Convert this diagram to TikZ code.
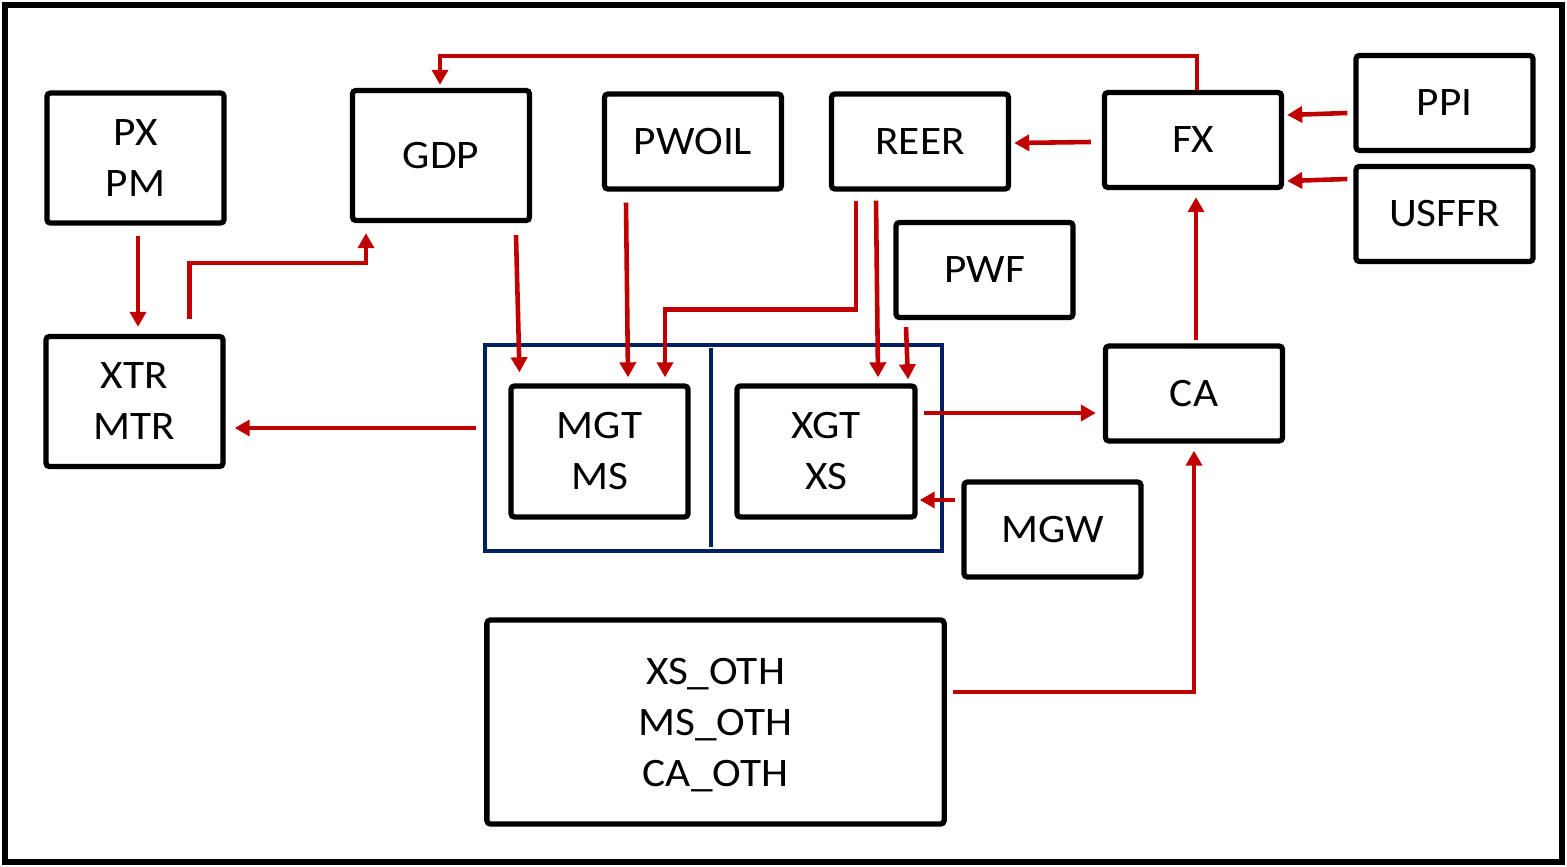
\documentclass[tikz,border=0pt]{standalone}
\usepackage{fontspec}
\setmainfont{Carlito}[FakeStretch=1.07]
\usetikzlibrary{arrows.meta,positioning,calc}
\definecolor{flowred}{HTML}{C00000}
\definecolor{blocknavy}{HTML}{002060}

\begin{document}
\begin{tikzpicture}[
    x=0.01cm, y=-0.01cm,
    var/.style={draw, line width=1.5pt, rounded corners=1pt, minimum width=1.77cm, minimum height=0.95cm, align=center, font=\fontsize{11.5}{14.5}\selectfont},
    tall/.style={var, minimum height=1.3cm},
    wide/.style={var, minimum width=4.57cm, minimum height=2.04cm},
    flow/.style={draw=flowred, line width=1.3pt, -{Triangle[length=0.15cm,width=0.16cm]}}
]
    \useasboundingbox (0,0) rectangle (1567,867);
    \draw[line width=1.5pt] (5,5) rectangle (1562,862);

    % top row
    \node[tall] (pxpm) at (135.5,158) {PX\\PM};
    \node[tall] (gdp) at (441,155.5) {GDP};
    \node[var] (pwoil) at (693,141.5) {PWOIL};
    \node[var] (reer) at (920,141.5) {REER};
    \node[var] (fx) at (1193,140) {FX};
    \node[var] (ppi) at (1444.5,103) {PPI};
    \node[var] (usffr) at (1444.5,214) {USFFR};
    \node[var] (pwf) at (984.5,270) {PWF};

    % middle row
    \node[tall] (xtr) at (134.5,401.5) {XTR\\MTR};
    \node[draw=blocknavy, line width=1.2pt, minimum width=4.57cm, minimum height=2.06cm] (trade) at (713.5,448) {};
    \draw[blocknavy, line width=1.2pt] ($(trade.north)+(-2.5,5)$) -- ($(trade.south)+(-2.5,-6)$);
    \node[tall, minimum height=1.31cm] (mgt) at (599.5,451.5) {MGT\\MS};
    \node[tall, minimum width=1.78cm, minimum height=1.31cm] (xgt) at (826,451.5) {XGT\\XS};
    \node[var] (ca) at (1194,393.5) {CA};
    \node[var] (mgw) at (1052.5,529.5) {MGW};

    % bottom
    \node[wide, text depth=-0.1cm] (oth) at (715.5,722) {XS\_OTH\\MS\_OTH\\CA\_OTH};

    % links
    \draw[flow] ($(fx.north)+(4,0)$) -- ++(0,-34) -| ($(gdp.north)+(-1,-3)$);
    \draw[flow] ($(ppi.west)+(-6,10)$) -- ($(fx.east)+(3,-25)$);
    \draw[flow] ($(usffr.west)+(-6,-35)$) -- ($(fx.east)+(3,41)$);
    \draw[flow] ($(fx.west)+(-11,2)$) -- ($(reer.east)+(3,1.5)$);
    \draw[flow] ($(pxpm.south)+(2.5,10)$) -- ($(xtr.north)+(3.5,-7)$);
    \draw[flow] ($(xtr.north)+(55,-15)$) |- ($(gdp.south)+(-75,40)$) -- ($(gdp.south)+(-75,10)$);
    \draw[flow] ($(gdp.south)+(75,12)$) -- ($(mgt.north)+(-80,-11)$);
    \draw[flow] ($(pwoil.south)+(-67,11)$) -- ($(mgt.north)+(28.5,-6)$);
    \draw[flow] ($(reer.south)+(-64,9)$) |- ($(mgt.north)+(65.5,-74)$) -- ($(mgt.north)+(65.5,-6)$);
    \draw[flow] ($(reer.south)+(-44,9)$) -- ($(xgt.north)+(52,-6)$);
    \draw[flow] ($(pwf.south)+(-78.5,7)$) -- ($(xgt.north)+(82,-4)$);
    \draw[flow] ($(trade.west)+(-7,-20)$) -- ($(xtr.east)+(9,26.5)$);
    \draw[flow] ($(xgt.east)+(6,-38.5)$) -- ($(ca.west)+(-7,19.5)$);
    \draw[flow] ($(mgw.west)+(-6,-29.5)$) -- ($(xgt.east)+(2,48.5)$);
    \draw[flow] ($(ca.north)+(2,-3)$) -- ($(fx.south)+(3,7)$);
    \draw[flow] ($(oth.east)+(6,-30)$) -| ($(ca.south)+(0,7)$);
\end{tikzpicture}
\end{document}
